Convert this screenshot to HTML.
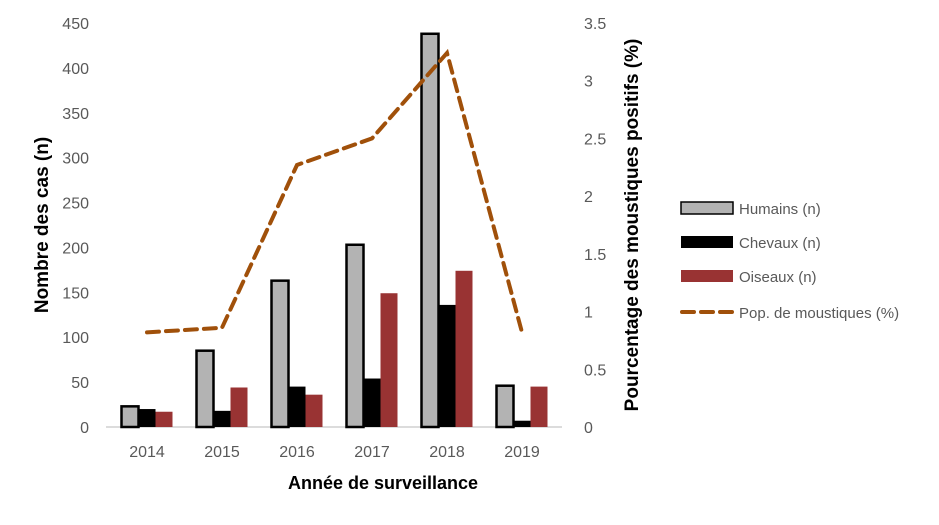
<!DOCTYPE html>
<html><head><meta charset="utf-8"><style>
body{margin:0;background:#fff;}
svg text{font-family:"Liberation Sans",sans-serif;}
</style></head><body>
<svg id="chart" width="939" height="520" xmlns="http://www.w3.org/2000/svg"></svg>
<script>
const years=["2014","2015","2016","2017","2018","2019"];
const humains=[23,85,163,203,438,46];
const chevaux=[20,18,45,54,136,7];
const oiseaux=[17,44,36,149,174,45];
const moustiques=[0.82,0.86,2.27,2.5,3.24,0.82];
const leftTicks=[0,50,100,150,200,250,300,350,400,450];
const rightTicks=[0,0.5,1,1.5,2,2.5,3,3.5];
const NS="http://www.w3.org/2000/svg";
const svg=document.getElementById('chart');
const x0=110,step=75,y0=427,yTop=23;
const yL=v=>y0-(v/450)*(y0-yTop);
const yR=v=>y0-(v/3.5)*(y0-yTop);
const xc=i=>x0+step*(i+0.5)-0.5;
function mk(t,a,txt){const e=document.createElementNS(NS,t);for(const k in a)e.setAttribute(k,a[k]);if(txt!==undefined)e.textContent=txt;svg.appendChild(e);return e;}
let ax=mk('line',{x1:106,x2:562,y1:y0,y2:y0,stroke:'#d0d0d0','stroke-width':1.5});


leftTicks.forEach(v=>{const t=mk('text',{x:89,y:yL(v)+6,'text-anchor':'end','font-size':16,fill:'#595959'},String(v));

});
rightTicks.forEach(v=>{const t=mk('text',{x:584,y:yR(v)+6,'text-anchor':'start','font-size':16,fill:'#595959'},String(v));

});
years.forEach((yr,i)=>{const t=mk('text',{x:xc(i),y:457,'text-anchor':'middle','font-size':16,fill:'#595959'},yr);

});
const bw=17;
const series=[[humains,'#b3b3b3','#000','bar-humains'],[chevaux,'#000','none','bar-chevaux'],[oiseaux,'#993333','none','bar-oiseaux']];
series.forEach((s,si)=>{s[0].forEach((v,i)=>{const x=xc(i)-1.5*bw+si*bw;const y=yL(v);
const r=mk('rect',{x:x,y:y,width:bw,height:y0-y,fill:s[1],stroke:s[2],'stroke-width':s[2]=='none'?0:2.5});

});});
const pts=moustiques.map((v,i)=>xc(i)+','+yR(v)).join(' ');
const pl=mk('polyline',{points:pts,fill:'none',stroke:'#a0500a','stroke-width':4,'stroke-dasharray':'12,7','stroke-linecap':'round'});


let t1=mk('text',{x:0,y:0,'font-size':19,'font-weight':'bold',fill:'#000','text-anchor':'middle',transform:'translate(48,225) rotate(-90)'},'Nombre des cas (n)');


let t2=mk('text',{x:0,y:0,'font-size':19,'font-weight':'bold',fill:'#000','text-anchor':'middle',transform:'translate(638,225) rotate(-90)'},'Pourcentage des moustiques positifs (%)');


let t3=mk('text',{x:383,y:489,'font-size':18,'font-weight':'bold',fill:'#000','text-anchor':'middle'},'Année de surveillance');


const leg=[['Humains (n)','#b3b3b3','#000',208],['Chevaux (n)','#000','none',242],['Oiseaux (n)','#993333','none',276]];
leg.forEach(l=>{const r=mk('rect',{x:681,y:l[3]-6,width:52,height:12,fill:l[1],stroke:l[2],'stroke-width':l[2]=='none'?0:1.5});


const t=mk('text',{x:739,y:l[3]+6,'font-size':15,fill:'#595959'},l[0]);

});
const ll=mk('line',{x1:682,x2:732,y1:312,y2:312,stroke:'#a0500a','stroke-width':4,'stroke-dasharray':'12,7','stroke-linecap':'round'});


const lt=mk('text',{x:739,y:318,'font-size':15,fill:'#595959'},'Pop. de moustiques (%)');


</script>
</body></html>
